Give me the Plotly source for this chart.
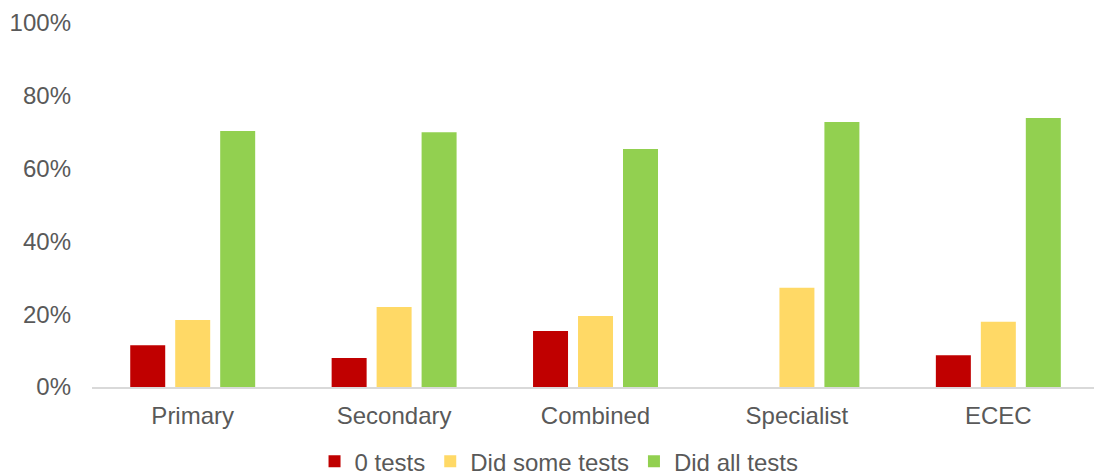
import plotly.graph_objects as go

categories = ["Primary", "Secondary", "Combined", "Specialist", "ECEC"]
zero_tests = [11.5, 8.0, 15.4, 0.0, 8.7]
some_tests = [18.4, 22.0, 19.5, 27.3, 17.9]
all_tests = [70.3, 70.0, 65.4, 72.8, 73.9]
y_ticks = [0, 20, 40, 60, 80, 100]
y_tick_labels = ["0%", "20%", "40%", "60%", "80%", "100%"]

series = [
    ("0 tests", zero_tests, "#C00000"),
    ("Did some tests", some_tests, "#FFD966"),
    ("Did all tests", all_tests, "#92D050"),
]

fig = go.Figure()
for name, vals, color in series:
    fig.add_trace(go.Bar(x=categories, y=vals, name=name, marker_color=color,
                         marker_line_width=0))

font_family = "Liberation Sans, Arial, sans-serif"
fig.update_layout(
    width=1094, height=476,
    margin=dict(l=92, r=0, t=23, b=89, autoexpand=False),
    paper_bgcolor="white", plot_bgcolor="white",
    barmode="group", bargap=0.33, bargroupgap=0.222,
    font=dict(family=font_family, size=24, color="#595959"),
    showlegend=True,
    legend=dict(orientation="h", x=0.511, xanchor="center", xref="container",
                y=0.03, yanchor="middle", yref="container",
                font=dict(size=24, color="#595959"), itemwidth=30,
                tracegroupgap=0, traceorder="normal"),
    xaxis=dict(range=[-0.5, 4.475], showline=True, linecolor="#D9D9D9", linewidth=2,
               ticks="", showgrid=False, ticklabelstandoff=6,
               tickfont=dict(size=24, color="#595959")),
    yaxis=dict(range=[0, 100], tickmode="array", tickvals=y_ticks,
               ticktext=y_tick_labels,
               showgrid=False, zeroline=False, showline=False, ticks="",
               ticklabelstandoff=20,
               tickfont=dict(size=24, color="#595959")),
)

fig.write_html("out.html")
